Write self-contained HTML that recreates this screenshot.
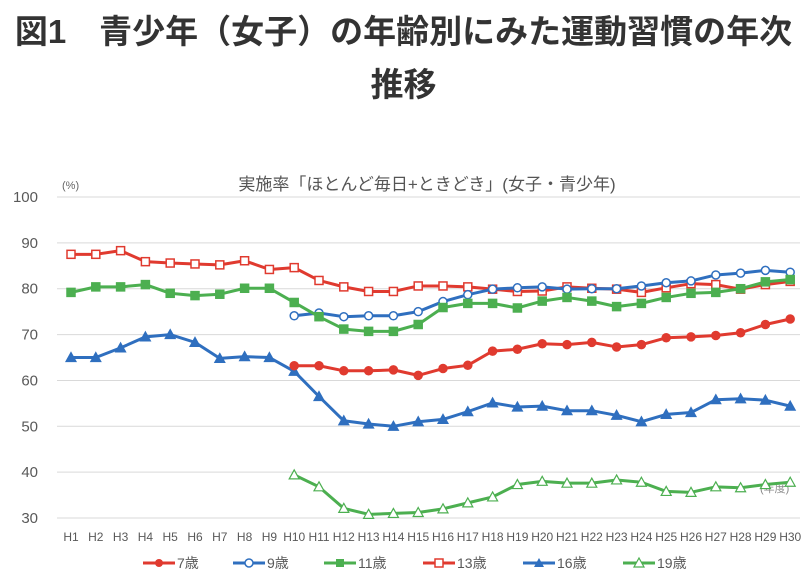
<!DOCTYPE html>
<html><head><meta charset="utf-8">
<style>
body{margin:0;background:#fff;width:807px;height:584px;overflow:hidden;font-family:"Liberation Sans","Noto Sans CJK JP",sans-serif;}
.t{position:absolute;left:0;width:807px;text-align:center;font-weight:bold;font-size:33px;line-height:40px;color:#333;white-space:nowrap;font-family:"Liberation Sans","Noto Sans CJK JP",sans-serif;}
</style></head><body>
<div class="t" style="top:12px;">図1　青少年（女子）の年齢別にみた運動習慣の年次</div>
<div class="t" style="top:65px;">推移</div>
<svg id="s" width="807" height="584" style="position:absolute;left:0;top:0" font-family="Liberation Sans, Noto Sans CJK JP, sans-serif">
<text x="427" y="190" font-size="17" fill="#555" text-anchor="middle">実施率「ほとんど毎日+ときどき」(女子・青少年)</text>
<text x="62" y="189" font-size="11" fill="#666">(%)</text>
<text x="760" y="492" font-size="11" fill="#888">(年度)</text>
<g id="grid" stroke="#d9d9d9" stroke-width="1"></g>
<g id="lab" font-size="14" fill="#595959"></g>
<g id="ser"></g>
<g font-size="14" fill="#595959">
<line x1="143" y1="563" x2="175" y2="563" stroke="#e03a2f" stroke-width="3"/><circle cx="159" cy="563" r="4" fill="#e03a2f"/><text x="177" y="568">7歳</text>
<line x1="233" y1="563" x2="265" y2="563" stroke="#2f6fbf" stroke-width="3"/><circle cx="249" cy="563" r="4" fill="#fff" stroke="#2f6fbf" stroke-width="1.5"/><text x="267" y="568">9歳</text>
<line x1="324" y1="563" x2="356" y2="563" stroke="#4caf50" stroke-width="3"/><rect x="336" y="559" width="8" height="8" fill="#4caf50"/><text x="358" y="568">11歳</text>
<line x1="423" y1="563" x2="455" y2="563" stroke="#e03a2f" stroke-width="3"/><rect x="435" y="559" width="8" height="8" fill="#fff" stroke="#e03a2f" stroke-width="1.5"/><text x="457" y="568">13歳</text>
<line x1="523" y1="563" x2="555" y2="563" stroke="#2f6fbf" stroke-width="3"/><polygon points="539,558 544,567 534,567" fill="#2f6fbf"/><text x="557" y="568">16歳</text>
<line x1="623" y1="563" x2="655" y2="563" stroke="#4caf50" stroke-width="3"/><polygon points="639,558 644,567 634,567" fill="#fff" stroke="#4caf50" stroke-width="1.2"/><text x="657" y="568">19歳</text>
</g>
</svg>
<script>
var NS="http://www.w3.org/2000/svg";
function el(p,t,a){var e=document.createElementNS(NS,t);for(var k in a)e.setAttribute(k,a[k]);p.appendChild(e);return e;}
var g=document.getElementById('grid'),lab=document.getElementById('lab'),ser=document.getElementById('ser');
function Y(v){return 197+(100-v)*4.586;}
function X(i){return 71+i*24.8;}
for(var v=30;v<=100;v+=10){el(g,'line',{x1:57,x2:800,y1:Y(v),y2:Y(v)});var t=el(lab,'text',{x:38,y:Y(v)+5,'text-anchor':'end','font-size':15});t.textContent=v;}
for(var i=0;i<30;i++){var t=el(lab,'text',{x:X(i),y:541,'text-anchor':'middle','font-size':12});t.textContent='H'+(i+1);}
var S=[
[0,'#e03a2f','sq',[87.5,87.5,88.3,85.9,85.6,85.4,85.2,86.1,84.2,84.6,81.8,80.4,79.4,79.4,80.6,80.6,80.4,79.9,79.4,79.5,80.4,80.1,79.9,79.2,80.2,81.1,80.9,79.9,80.9,81.6]],
[0,'#2f6fbf','ci',[74.1,74.7,73.9,74.1,74.1,75,77.2,78.7,79.9,80.2,80.4,79.9,80,80,80.6,81.3,81.7,83,83.4,84,83.6],9],
[0,'#4caf50','SQ',[79.2,80.4,80.4,80.9,79,78.5,78.8,80.1,80.1,77,73.9,71.2,70.7,70.7,72.2,75.9,76.8,76.8,75.8,77.3,78.1,77.3,76.1,76.8,78.1,79,79.2,80,81.5,82]],
[0,'#2f6fbf','TR',[65,65,67.1,69.5,70,68.3,64.8,65.2,65,62,56.5,51.2,50.5,50,51,51.5,53.2,55.1,54.2,54.4,53.4,53.4,52.4,51,52.6,53,55.8,56,55.7,54.4]],
[0,'#e03a2f','CI',[63.2,63.2,62.1,62.1,62.3,61.1,62.6,63.3,66.4,66.8,68,67.8,68.3,67.3,67.8,69.3,69.5,69.8,70.4,72.2,73.4],9],
[0,'#4caf50','tr',[39.4,36.8,32.1,30.8,31,31.2,32,33.3,34.6,37.3,38,37.6,37.6,38.3,37.8,35.8,35.6,36.8,36.6,37.3,37.8],9]
];
S.forEach(function(s){var off=s[4]||0,c=s[1],d=s[3],pts=d.map(function(v,j){return X(j+off)+','+Y(v)}).join(' ');
el(ser,'polyline',{points:pts,fill:'none',stroke:c,'stroke-width':3,'stroke-linejoin':'round'});
d.forEach(function(v,j){var x=X(j+off),y=Y(v),m=s[2];
if(m=='sq'||m=='SQ')el(ser,'rect',{x:x-4,y:y-4,width:8,height:8,fill:m=='SQ'?c:'#fff',stroke:c,'stroke-width':1.5});
else if(m=='ci'||m=='CI')el(ser,'circle',{cx:x,cy:y,r:4,fill:m=='CI'?c:'#fff',stroke:c,'stroke-width':1.5});
else el(ser,'polygon',{points:x+','+(y-5)+' '+(x+5)+','+(y+4)+' '+(x-5)+','+(y+4),fill:m=='TR'?c:'#fff',stroke:c,'stroke-width':1.2});});});
</script>
</body></html>
